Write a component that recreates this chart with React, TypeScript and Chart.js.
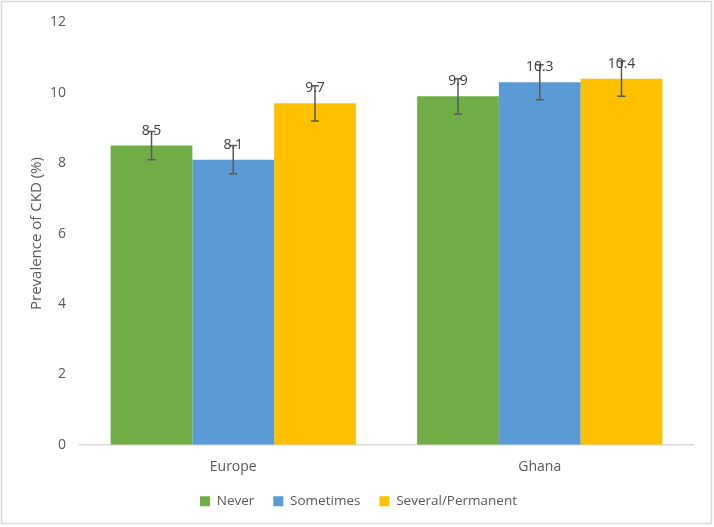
import { useEffect, useRef } from "react";
import { Chart, registerables } from "chart.js";

Chart.register(...registerables);

// categories and series
const regions = ["Europe", "Ghana"];
const seriesNames = ["Never", "Sometimes", "Several/Permanent"];
const seriesColors = ["#70AD47", "#5B9BD5", "#FFC000"];
const neverValues = [8.5, 9.9];
const sometimesValues = [8.1, 10.3];
const severalValues = [9.7, 10.4];
const neverErrors = [0.4, 0.5];
const sometimesErrors = [0.4, 0.5];
const severalErrors = [0.5, 0.5];
const yTicks = [0, 2, 4, 6, 8, 10, 12];

const FONT = "'Open Sans', sans-serif";

// white background + thin frame around the whole picture
const framePlugin = {
  id: "frame",
  beforeDraw(chart: any) {
    const { ctx, width, height } = chart;
    ctx.save();
    ctx.fillStyle = "#ffffff";
    ctx.fillRect(0, 0, width, height);
    ctx.strokeStyle = "#d9d9d9";
    ctx.lineWidth = 1.5;
    ctx.strokeRect(1.5, 1.5, width - 4, height - 5);
    ctx.restore();
  },
};

// error bars (+ value labels) drawn on top of the bars
const errorBarPlugin = {
  id: "errorBars",
  afterDatasetsDraw(chart: any) {
    const { ctx } = chart;
    const yScale = chart.scales.y;
    ctx.save();
    chart.data.datasets.forEach((ds: any, i: number) => {
      const meta = chart.getDatasetMeta(i);
      meta.data.forEach((bar: any, j: number) => {
        const v = ds.data[j];
        const e = ds.errors[j];
        const x = bar.x;
        const yHi = yScale.getPixelForValue(v + e);
        const yLo = yScale.getPixelForValue(v - e);
        ctx.strokeStyle = "#595959";
        ctx.lineWidth = 1.5;
        ctx.beginPath();
        ctx.moveTo(x, yHi);
        ctx.lineTo(x, yLo);
        ctx.moveTo(x - 4, yHi);
        ctx.lineTo(x + 4, yHi);
        ctx.moveTo(x - 4, yLo);
        ctx.lineTo(x + 4, yLo);
        ctx.stroke();
      });
    });
    chart.data.datasets.forEach((ds: any, i: number) => {
      const meta = chart.getDatasetMeta(i);
      meta.data.forEach((bar: any, j: number) => {
        ctx.fillStyle = "#404040";
        ctx.font = `14px ${FONT}`;
        ctx.textAlign = "center";
        ctx.textBaseline = "alphabetic";
        ctx.fillText(ds.data[j].toFixed(1), bar.x, bar.y - 11);
      });
    });
    ctx.restore();
  },
};

const App = () => {
  const canvasRef = useRef<HTMLCanvasElement | null>(null);

  useEffect(() => {
    if (!canvasRef.current) return;
    const values = [neverValues, sometimesValues, severalValues];
    const errors = [neverErrors, sometimesErrors, severalErrors];

    const chart = new Chart(canvasRef.current, {
      type: "bar",
      data: {
        labels: regions,
        datasets: seriesNames.map((name, i) => ({
          label: name,
          data: values[i],
          errors: errors[i],
          backgroundColor: seriesColors[i],
          borderWidth: 0,
          categoryPercentage: 0.8,
          barPercentage: 1.0,
        })) as any,
      },
      options: {
        responsive: false,
        animation: false,
        layout: { padding: { left: 24, right: 21, top: 20, bottom: 9 } },
        plugins: {
          tooltip: { enabled: false },
          legend: {
            position: "bottom",
            labels: {
              boxWidth: 10,
              boxHeight: 10,
              padding: 19,
              color: "#595959",
              font: { family: FONT, size: 13.5 },
            },
          },
        },
        scales: {
          x: {
            afterFit(scale: any) {
              scale.height = scale.height - 14;
            },
            grid: { display: false, drawTicks: false },
            border: { display: true, color: "#d9d9d9", width: 1.5 },
            ticks: { color: "#595959", padding: 14, font: { family: FONT, size: 14 } },
          },
          y: {
            min: 0,
            max: 12,
            afterFit(scale: any) {
              scale.width = 56;
            },
            afterBuildTicks(scale: any) {
              scale.ticks = yTicks.map((v) => ({ value: v }));
            },
            grid: { display: false, drawTicks: false },
            border: { display: false },
            ticks: { color: "#595959", padding: 14, font: { family: FONT, size: 14 } },
            title: {
              display: true,
              text: "Prevalence of CKD (%)",
              color: "#595959",
              padding: 4,
              font: { family: FONT, size: 15 },
            },
          },
        },
      },
      plugins: [framePlugin, errorBarPlugin],
    });

    return () => {
      chart.destroy();
    };
  }, []);

  return (
    <div style={{ position: "absolute", left: 0, top: 0, width: 714, height: 527 }}>
      <canvas ref={canvasRef} width={714} height={527}></canvas>
    </div>
  );
};

export default App;
